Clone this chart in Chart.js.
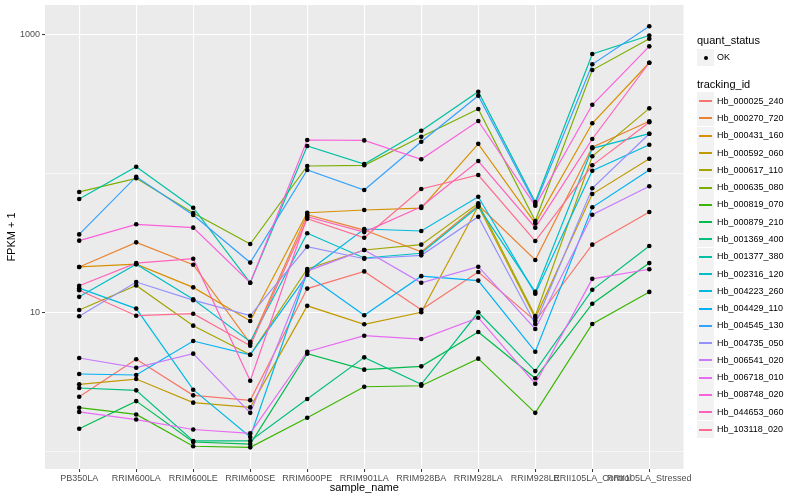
<!DOCTYPE html>
<html><head><meta charset="utf-8">
<script src="https://cdn.jsdelivr.net/npm/chart.js@4.4.1/dist/chart.umd.min.js"></script>
<style>
body{margin:0;background:#fff;}
#wrap{position:relative;width:800px;height:500px;font-family:"Liberation Sans",Arial,Helvetica,sans-serif;}
canvas{position:absolute;left:0;top:0;}
#legend{position:absolute;left:697px;top:0px;width:103px;height:500px;}
.lg-title{position:absolute;font-size:11px;color:#000;line-height:12px;white-space:nowrap;}
.lg-key{position:absolute;width:17px;height:17px;background:#F2F2F2;}
.lg-line{position:absolute;left:2px;width:13px;height:2px;top:7.5px;}
.lg-dot{position:absolute;left:6.5px;top:6.5px;width:4px;height:4px;border-radius:2px;background:#000;}
.lg-text{position:absolute;font-size:9px;color:#000;line-height:10px;white-space:nowrap;}
</style></head><body>
<div id="wrap"><canvas id="c" width="800" height="500"></canvas><div id="legend"></div></div>
<script>
const samples = ["PB350LA","RRIM600LA","RRIM600LE","RRIM600SE","RRIM600PE","RRIM901LA","RRIM928BA","RRIM928LA","RRIM928LE","RRII105LA_Control","RRII105LA_Stressed"];
const trackingIds = ["Hb_000025_240","Hb_000270_720","Hb_000431_160","Hb_000592_060","Hb_000617_110","Hb_000635_080","Hb_000819_070","Hb_000879_210","Hb_001369_400","Hb_001377_380","Hb_002316_120","Hb_004223_260","Hb_004429_110","Hb_004545_130","Hb_004735_050","Hb_006541_020","Hb_006718_010","Hb_008748_020","Hb_044653_060","Hb_103118_020"];
const colors = ["#F8766D","#EA8331","#D89000","#C09B00","#A3A500","#7CAE00","#39B600","#00BB4E","#00BF7D","#00C1A3","#00BFC4","#00BAE0","#00B0F6","#35A2FF","#9590FF","#C77CFF","#E76BF3","#FA62DB","#FF62BC","#FF6C91"];
const yTickValues = [1, 10, 100, 1000];
const yTickLabels = ["", "10", "", "1000"];

const Hb_000025_240 = [2.49, 4.63, 2.55, 2.35, 14.9, 19.8, 10.5, 19.6, 8.72, 30.8, 52.8];
const Hb_000270_720 = [21.3, 32.0, 22.1, 6.03, 50.5, 39.2, 27.4, 59.3, 23.9, 154, 237];
const Hb_000431_160 = [21.3, 22.3, 15.2, 8.72, 52.2, 54.6, 56.4, 163, 43.8, 229, 623];
const Hb_000592_060 = [3.06, 3.34, 2.26, 2.09, 11.2, 8.26, 10.07, 58.3, 9.16, 71.1, 127.5];
const Hb_000617_110 = [10.46, 15.7, 8.07, 4.99, 20.6, 28.2, 30.8, 61.0, 9.47, 132.7, 293];
const Hb_000635_080 = [73.6, 92.2, 52.0, 31.1, 113, 114.3, 183.4, 290, 45.5, 552, 927];
const Hb_000819_070 = [2.08, 1.86, 1.10, 1.08, 1.76, 2.94, 2.99, 4.68, 1.91, 8.30, 14.1];
const Hb_000879_210 = [1.47, 2.32, 1.18, 1.14, 5.08, 3.90, 4.12, 7.27, 3.38, 11.6, 22.7];
const Hb_001369_400 = [2.88, 2.77, 1.20, 1.20, 2.40, 4.78, 3.06, 10.07, 3.81, 14.6, 30.1];
const Hb_001377_380 = [65.5, 111.7, 56.7, 16.4, 157.3, 116.8, 202.6, 386, 62.3, 720, 977];
const Hb_002316_120 = [13.0, 22.3, 12.5, 6.19, 37.2, 24.7, 26.7, 57.7, 14.1, 151.4, 192.8];
const Hb_004223_260 = [15.0, 10.7, 2.80, 1.28, 19.6, 39.9, 38.6, 68.0, 13.7, 104.6, 160.7];
const Hb_004429_110 = [3.63, 3.57, 6.26, 4.99, 18.7, 9.58, 18.3, 17.0, 5.25, 57.1, 105.8];
const Hb_004545_130 = [36.5, 94.7, 50.3, 22.9, 105.8, 76.0, 168.9, 361, 60.3, 607, 1138];
const Hb_004735_050 = [9.42, 16.6, 12.3, 9.52, 29.8, 24.4, 25.8, 48.9, 8.30, 78.2, 192.8];
const Hb_006541_020 = [4.73, 4.03, 5.08, 1.91, 19.9, 28.2, 16.4, 21.4, 7.64, 50.5, 80.8];
const Hb_006718_010 = [1.94, 1.71, 1.45, 1.36, 5.25, 6.84, 6.47, 9.21, 3.09, 17.5, 20.5];
const Hb_008748_020 = [32.9, 43.1, 40.8, 16.4, 173.7, 172.5, 126.3, 237.8, 58.6, 311, 817];
const Hb_044653_060 = [15.6, 22.7, 24.4, 3.25, 48.9, 37.9, 57.7, 122.7, 40.8, 176.6, 623];
const Hb_103118_020 = [14.5, 9.52, 9.84, 5.80, 47.3, 34.5, 77.3, 97.4, 32.7, 114.3, 232.7];

const seriesValues = [Hb_000025_240, Hb_000270_720, Hb_000431_160, Hb_000592_060, Hb_000617_110, Hb_000635_080, Hb_000819_070, Hb_000879_210, Hb_001369_400, Hb_001377_380, Hb_002316_120, Hb_004223_260, Hb_004429_110, Hb_004545_130, Hb_004735_050, Hb_006541_020, Hb_006718_010, Hb_008748_020, Hb_044653_060, Hb_103118_020];

const FONT = '"Liberation Sans", Arial, Helvetica, sans-serif';
const n = trackingIds.length;

const datasets = trackingIds.map((id, i) => ({
  type: 'line',
  label: id,
  data: seriesValues[i].map((v, j) => ({x: j, y: v})),
  borderColor: colors[i],
  backgroundColor: colors[i],
  borderWidth: 1.2,
  pointRadius: 0,
  pointHoverRadius: 0,
  tension: 0,
  fill: false,
  order: n - i
}));
const allPoints = [];
seriesValues.forEach(arr => arr.forEach((v, j) => allPoints.push({x: j, y: v})));
datasets.push({
  type: 'scatter',
  label: 'OK',
  data: allPoints,
  showLine: false,
  pointRadius: 2.3,
  pointBorderWidth: 0,
  pointBackgroundColor: '#000',
  pointBorderColor: '#000',
  order: 0
});

const panelBg = {
  id: 'panelBg',
  beforeDraw(chart) {
    const {ctx, chartArea: a} = chart;
    ctx.save();
    ctx.fillStyle = '#EBEBEB';
    ctx.fillRect(a.left, a.top, a.right - a.left, a.bottom - a.top);
    ctx.restore();
  }
};

const isMajor = v => v === 10 || v === 1000;

new Chart(document.getElementById('c'), {
  data: {datasets},
  plugins: [panelBg],
  options: {
    responsive: false,
    animation: false,
    events: [],
    layout: {padding: {left: 0, right: 116.5, top: 5, bottom: 0}},
    plugins: {legend: {display: false}, tooltip: {enabled: false}},
    scales: {
      x: {
        type: 'linear',
        min: -0.6, max: 10.6,
        afterBuildTicks: s => { s.ticks = samples.map((_, i) => ({value: i})); },
        afterFit: s => { s.height = 31; s.paddingLeft = 0; s.paddingRight = 0; },
        ticks: {
          callback: v => samples[v],
          autoSkip: false, maxRotation: 0, minRotation: 0,
          padding: 1, color: '#4D4D4D', font: {size: 9, family: FONT}
        },
        grid: {color: '#FFFFFF', lineWidth: 1.1, tickLength: 3, tickColor: '#333333', tickWidth: 1},
        border: {display: false},
        title: {display: true, text: 'sample_name', color: '#000', font: {size: 11, family: FONT}, padding: {top: 0, bottom: 5}}
      },
      y: {
        type: 'logarithmic',
        min: 0.755, max: 1618,
        afterBuildTicks: s => { s.ticks = yTickValues.map(v => ({value: v})); },
        afterFit: s => { s.width = 45; s.paddingTop = 0; s.paddingBottom = 0; },
        ticks: {
          callback: v => yTickLabels[yTickValues.indexOf(v)] || '',
          autoSkip: false, padding: 2, color: '#4D4D4D', font: {size: 9, family: FONT}
        },
        grid: {
          color: '#FFFFFF',
          lineWidth: c => (c.tick && isMajor(c.tick.value)) ? 1.1 : 0.55,
          tickLength: 3,
          tickColor: c => (c.tick && isMajor(c.tick.value)) ? '#333333' : 'rgba(0,0,0,0)',
          tickWidth: 1
        },
        border: {display: false},
        title: {display: true, text: 'FPKM + 1', color: '#000', font: {size: 11, family: FONT}, padding: {top: 5, bottom: 0}}
      }
    }
  }
});

// legend (ggplot-style, right side)
const lg = document.getElementById('legend');
function add(cls, style, text) {
  const d = document.createElement('div');
  d.className = cls;
  Object.assign(d.style, style);
  if (text !== undefined) d.textContent = text;
  lg.appendChild(d);
  return d;
}
add('lg-title', {left: '0px', top: '34px'}, 'quant_status');
const okKey = add('lg-key', {left: '0px', top: '49px'});
const dot = document.createElement('div'); dot.className = 'lg-dot'; okKey.appendChild(dot);
add('lg-text', {left: '20px', top: '52px'}, 'OK');
add('lg-title', {left: '0px', top: '78px'}, 'tracking_id');
trackingIds.forEach((id, i) => {
  const cy = 100.7 + i * 17.28;
  const k = add('lg-key', {left: '0px', top: Math.round(cy - 8.5) + 'px'});
  const ln = document.createElement('div'); ln.className = 'lg-line'; ln.style.background = colors[i]; k.appendChild(ln);
  add('lg-text', {left: '20px', top: Math.round(cy - 5) + 'px'}, id);
});
</script>
</body></html>
